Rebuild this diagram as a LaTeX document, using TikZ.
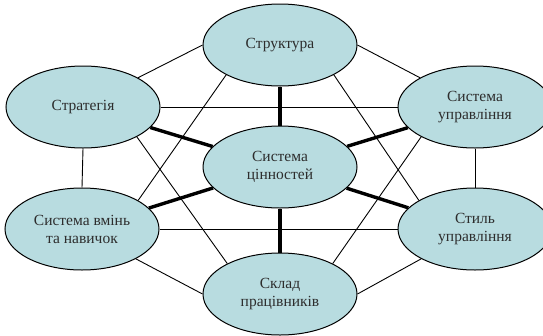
\documentclass[tikz,border=0pt]{standalone}
\usepackage{fontspec}
\setmainfont{Liberation Serif}
\usetikzlibrary{shapes.geometric}
\pgfdeclarelayer{bg}
\pgfsetlayers{bg,main}
\definecolor{ellfill}{RGB}{184,220,224}
\definecolor{txt}{RGB}{45,45,45}
\tikzset{
  ell/.style={ellipse, draw=black, line width=1pt, fill=ellfill,
    minimum width=154pt, minimum height=82pt, inner sep=0pt,
    align=center, text=txt, font=\fontsize{15.5}{18}\selectfont},
  thinline/.style={line width=0.9pt, draw=black},
  thickline/.style={line width=3.4pt, draw=black}
}
\begin{document}
\begin{tikzpicture}[x=1pt,y=-1pt]
\useasboundingbox (0,0) rectangle (543,335);
\clip (0,0) rectangle (543,335);
\node[ell] (T) at (280,45) {Структура};
\node[ell] (L1) at (83,107) {Стратегія};
\node[ell] (R1) at (475,107) {Система\\управління};
\node[ell] (C) at (280,167) {Система\\цінностей};
\node[ell] (L2) at (82,229) {Система вмінь\\та навичок};
\node[ell] (R2) at (475,229) {Стиль\\управління};
\node[ell] (B) at (280,294) {Склад\\працівників};
\begin{pgfonlayer}{bg}
\draw[thinline] (T.180) -- (L1.28);
\draw[thinline] (T.0) -- (R1.152);
\draw[thinline] (L1.0) -- (R1.180);
\draw[thinline] (L1.270) -- (L2.90);
\draw[thinline] (R1.270) -- (R2.90);
\draw[thinline] (L2.0) -- (R2.180);
\draw[thinline] (L2.331) -- (B.180);
\draw[thinline] (R2.209) -- (B.0);
\draw[thinline] (T.209) -- (L2.27);
\draw[thinline] (T.331) -- (R2.153);
\draw[thinline] (L1.331) -- (B.150);
\draw[thinline] (R1.209) -- (B.30);
\draw[thickline] (C) -- (T);
\draw[thickline] (C) -- (B);
\draw[thickline] (C) -- (L1);
\draw[thickline] (C) -- (L2);
\draw[thickline] (C) -- (R1);
\draw[thickline] (C) -- (R2);
\end{pgfonlayer}
\end{tikzpicture}
\end{document}
